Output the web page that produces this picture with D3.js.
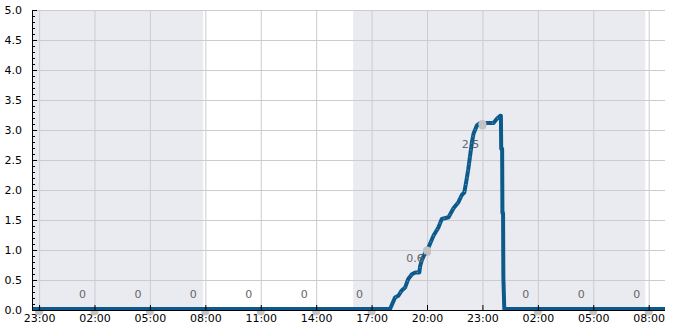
<!DOCTYPE html>
<html>
<head>
<meta charset="utf-8">
<script src="https://cdn.jsdelivr.net/npm/d3@7"></script>
<style>
  body { margin: 0; background: #fff; }
  svg text { font-family: "DejaVu Sans", sans-serif; font-size: 11px; }
  .axis path, .axis line { stroke: #000; }
  .axis text { fill: #000; }
  .grid line { stroke: #cccccc; }
  .grid path { display: none; }
</style>
</head>
<body>
<svg id="chart" width="685" height="330"></svg>
<script>
(function() {
    'use strict';

    // line series: time, value
    var times = [
        "2024-01-01T22:37", "2024-01-02T18:00", "2024-01-02T18:16", "2024-01-02T18:27",
        "2024-01-02T18:38", "2024-01-02T18:49", "2024-01-02T18:59", "2024-01-02T19:11",
        "2024-01-02T19:22", "2024-01-02T19:35", "2024-01-02T19:38", "2024-01-02T19:43",
        "2024-01-02T19:54", "2024-01-02T20:05", "2024-01-02T20:21", "2024-01-02T20:37",
        "2024-01-02T20:48", "2024-01-02T21:10", "2024-01-02T21:26", "2024-01-02T21:42",
        "2024-01-02T21:53", "2024-01-02T22:01", "2024-01-02T22:07", "2024-01-02T22:14",
        "2024-01-02T22:20", "2024-01-02T22:26", "2024-01-02T22:31", "2024-01-02T22:42",
        "2024-01-02T22:53", "2024-01-02T23:14", "2024-01-02T23:36", "2024-01-02T23:47",
        "2024-01-02T23:58", "2024-01-03T00:00", "2024-01-03T00:01", "2024-01-03T00:04",
        "2024-01-03T00:05", "2024-01-03T00:07", "2024-01-03T00:08", "2024-01-03T00:11",
        "2024-01-03T08:53"
    ];
    var values = [
        0, 0, 0.19, 0.22,
        0.31, 0.36, 0.5, 0.58,
        0.61, 0.61, 0.72, 0.81,
        0.94, 1.03, 1.22, 1.36,
        1.5, 1.53, 1.68, 1.78,
        1.9, 1.94, 2.11, 2.33,
        2.56, 2.78, 2.92, 3.06,
        3.1, 3.1, 3.1, 3.17,
        3.22, 3.22, 2.67, 2.67,
        1.6, 1.6, 0.53, 0,
        0
    ];

    // markers at every tick, with their labels
    var markTimes = [
        "2024-01-01T23:00", "2024-01-02T02:00", "2024-01-02T05:00", "2024-01-02T08:00",
        "2024-01-02T11:00", "2024-01-02T14:00", "2024-01-02T17:00", "2024-01-02T20:00",
        "2024-01-02T23:00", "2024-01-03T02:00", "2024-01-03T05:00", "2024-01-03T08:00"
    ];
    var markValues = [0, 0, 0, 0, 0, 0, 0, 0.99, 3.1, 0, 0, 0];
    var labelValues = [null, 0, 0, 0, 0, 0, 0, 0.6, 2.5, 0, 0, 0];

    // shaded periods
    var bandStarts = ["2024-01-01T22:37", "2024-01-02T16:00"];
    var bandEnds = ["2024-01-02T07:53", "2024-01-03T07:49"];

    var xDomain = ["2024-01-01T22:37", "2024-01-03T08:53"];
    var yTicks = [0, 0.5, 1, 1.5, 2, 2.5, 3, 3.5, 4, 4.5, 5];

    var margin = {top: 10, right: 20, bottom: 20, left: 32},
        width = 685 - margin.left - margin.right,
        height = 330 - margin.top - margin.bottom;

    var parse = d3.isoParse;
    var data = times.map(function(t, i) { return {t: parse(t), v: values[i]}; });
    var marks = markTimes.map(function(t, i) {
        return {t: parse(t), v: markValues[i], label: labelValues[i]};
    });

    var svg = d3.select("#chart");
    var g = svg.append("g")
        .attr("transform", "translate(" + margin.left + "," + margin.top + ")");

    var x = d3.scaleTime()
        .domain(xDomain.map(parse))
        .range([0, width]);
    var y = d3.scaleLinear()
        .domain([0, 5])
        .range([height, 0]);

    // bands
    g.selectAll(".band")
        .data(bandStarts)
        .enter().append("rect")
        .attr("class", "band")
        .attr("x", function(d) { return x(parse(d)); })
        .attr("y", 0)
        .attr("width", function(d, i) { return x(parse(bandEnds[i])) - x(parse(d)); })
        .attr("height", height)
        .attr("fill", "#eaebf1");

    var tickDates = markTimes.map(parse);

    // grid
    g.append("g")
        .attr("class", "grid")
        .attr("transform", "translate(0," + height + ")")
        .call(d3.axisBottom(x).tickValues(tickDates).tickFormat("").tickSize(-height).tickSizeOuter(0));
    g.append("g")
        .attr("class", "grid")
        .call(d3.axisLeft(y).tickValues(yTicks).tickFormat("").tickSize(-width).tickSizeOuter(0));

    // markers under the line
    g.selectAll(".mark")
        .data(marks)
        .enter().append("circle")
        .attr("class", "mark")
        .attr("cx", function(d) { return x(d.t); })
        .attr("cy", function(d) { return y(d.v) + 1.5; })
        .attr("r", 4)
        .attr("fill", "#c3c3c3");

    var line = d3.line()
        .x(function(d) { return x(d.t); })
        .y(function(d) { return y(d.v) - 1; });

    g.append("path")
        .datum(data)
        .attr("fill", "none")
        .attr("stroke", "#0b5a8b")
        .attr("stroke-width", 4)
        .attr("stroke-linejoin", "round")
        .attr("d", line);
    // small white sample dots on the rising part only
    g.append("path")
        .datum(data.slice(2, 34))
        .attr("fill", "none")
        .attr("stroke", "#ffffff")
        .attr("stroke-width", 0.8)
        .attr("stroke-dasharray", "1 6")
        .attr("opacity", 0.6)
        .attr("d", line);

    // markers on the rising part sit above the line
    g.selectAll(".mark2")
        .data(marks.filter(function(d) { return d.v > 0; }))
        .enter().append("circle")
        .attr("cx", function(d) { return x(d.t); })
        .attr("cy", function(d) { return y(d.v); })
        .attr("r", 4)
        .attr("fill", "#c3c3c3");

    // value labels
    g.selectAll(".vlabel")
        .data(marks.filter(function(d) { return d.label !== null; }))
        .enter().append("text")
        .attr("x", function(d) { return x(d.t) - 12; })
        .attr("y", function(d) { return y(d.label) - 16; })
        .attr("dy", "0.35em")
        .attr("text-anchor", "middle")
        .attr("fill", "#666")
        .text(function(d) { return d.label === 0 ? "0" : d.label; });

    // axes
    g.append("g")
        .attr("class", "axis")
        .attr("transform", "translate(0," + height + ")")
        .call(d3.axisBottom(x).tickValues(tickDates).tickFormat(d3.timeFormat("%H:%M"))
            .tickSizeInner(-5).tickSizeOuter(0).tickPadding(4))
        .call(function(s) { s.select(".domain").attr("d", "M0,0.5H" + width); });

    g.append("g")
        .attr("class", "axis")
        .call(d3.axisLeft(y).ticks(50).tickFormat("").tickSizeInner(-3).tickSizeOuter(0));
    g.append("g")
        .attr("class", "axis")
        .call(d3.axisLeft(y).tickValues(yTicks).tickFormat(d3.format(".1f"))
            .tickSizeInner(-5).tickSizeOuter(0).tickPadding(10))
        .call(function(s) { s.select(".domain").remove(); });
})();
</script>
</body>
</html>
